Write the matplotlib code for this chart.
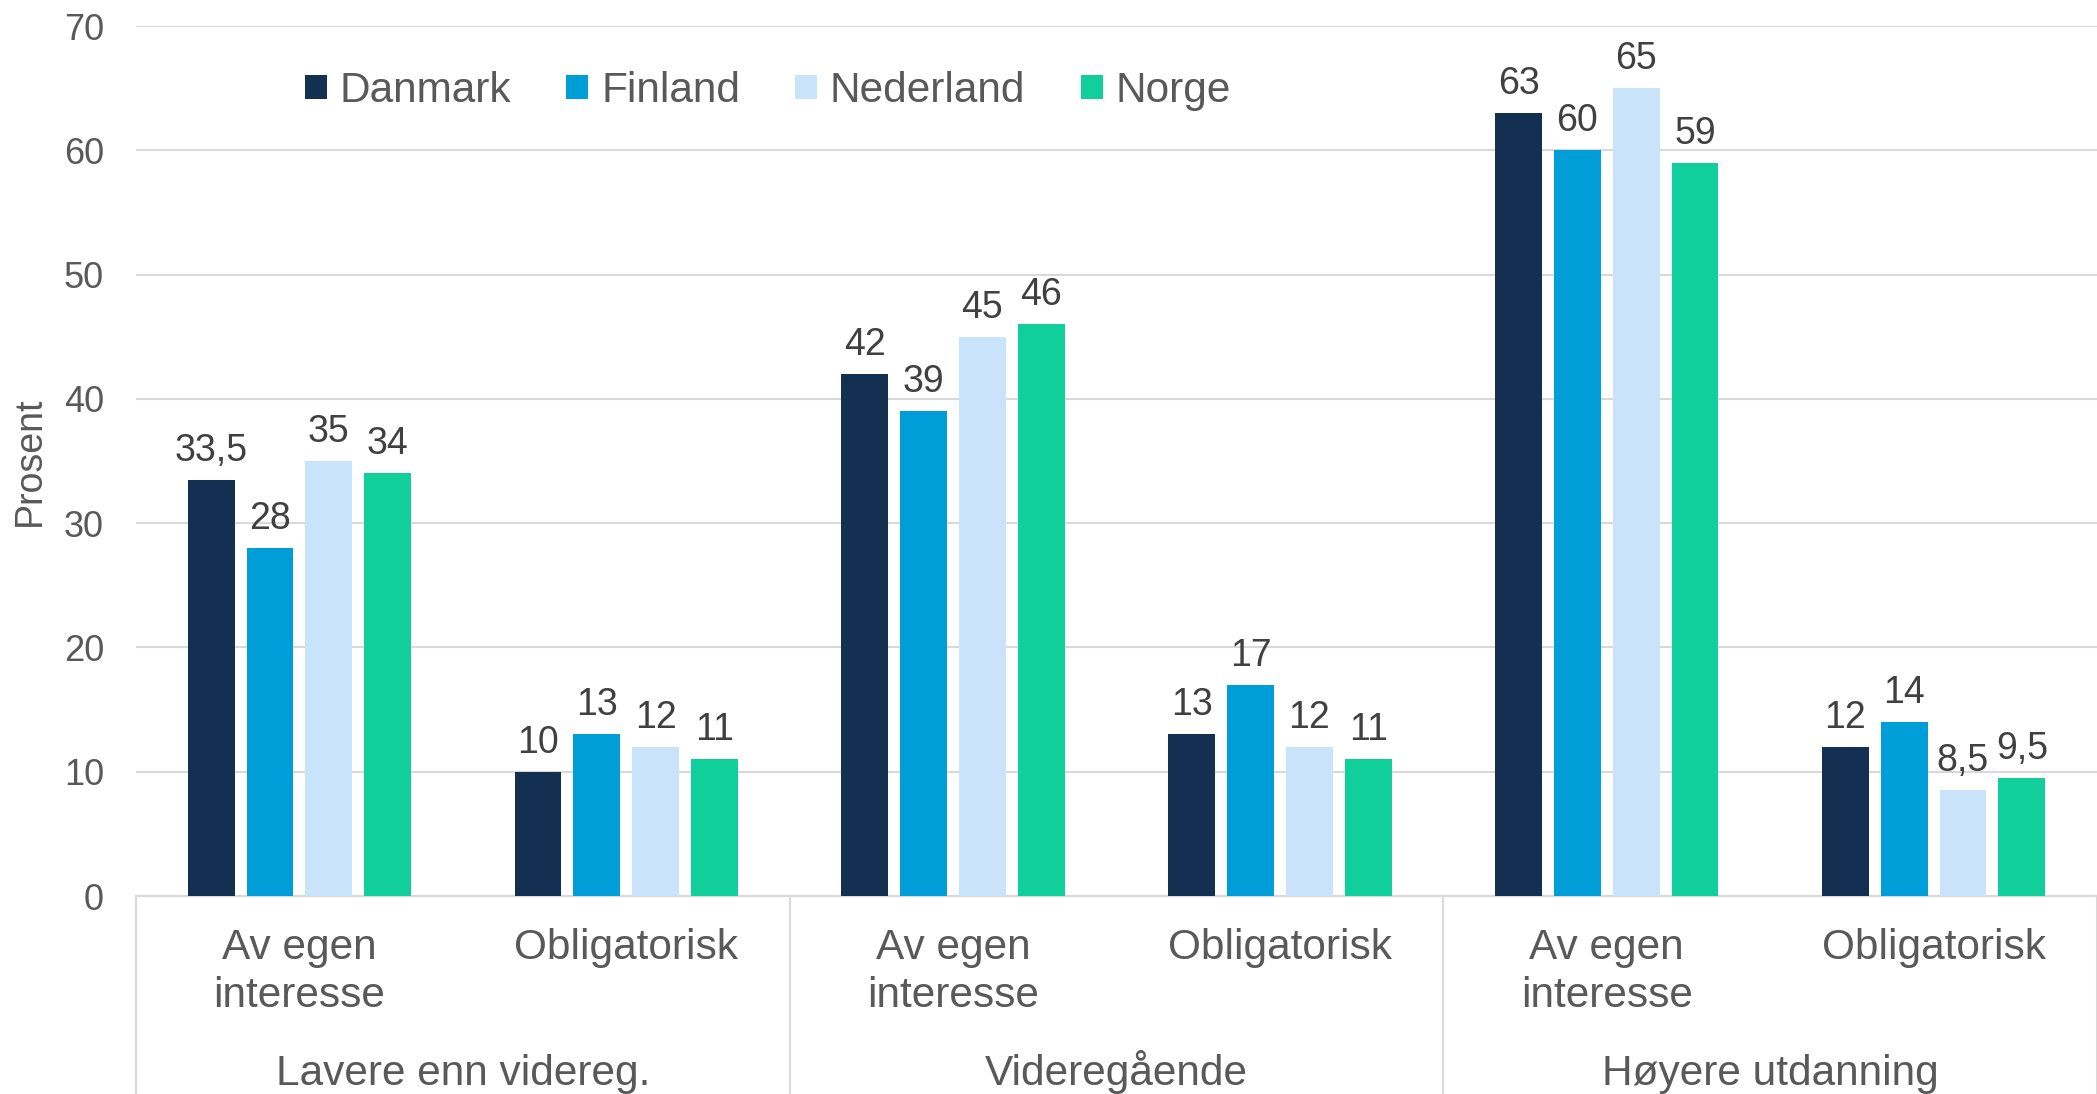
import numpy as np
import matplotlib.pyplot as plt
import matplotlib.transforms as mtransforms

# Andel som deltar i opplæring, etter utdanningsnivå og type
groups = ['Lavere enn videreg.', 'Videregående', 'Høyere utdanning']
subcats = ['Av egen\ninteresse', 'Obligatorisk'] * 3
countries = ['Danmark', 'Finland', 'Nederland', 'Norge']
colors = ['#133052', '#009ED8', '#C9E3FA', '#11CF9B']

danmark = [33.5, 10, 42, 13, 63, 12]
finland = [28, 13, 39, 17, 60, 14]
nederland = [35, 12, 45, 12, 65, 8.5]
norge = [34, 11, 46, 11, 59, 9.5]
values = [danmark, finland, nederland, norge]

plt.rcParams['font.family'] = ['Liberation Sans', 'DejaVu Sans']

fig = plt.figure(figsize=(20.97, 10.94), dpi=100)
ax = fig.add_axes([136 / 2097, 198 / 1094, 1 - 136 / 2097, 870 / 1094])

x = np.arange(len(subcats))
width = 0.1437
step = 0.18

for i, (name, vals, col) in enumerate(zip(countries, values, colors)):
    pos = x + (i - 1.5) * step
    bars = ax.bar(pos, vals, width, color=col, label=name, zorder=3)
    for b, v in zip(bars, vals):
        txt = ('%g' % v).replace('.', ',')
        ax.annotate(txt, (b.get_x() + b.get_width() / 2, v), xytext=(0, 8),
                    textcoords='offset points', ha='center', va='bottom',
                    fontsize=27, color='#404040')

ax.set_xlim(-0.5, 5.5)
ax.set_ylim(0, 70)
ax.set_yticks(range(0, 71, 10))
ax.yaxis.grid(True, color='#D9D9D9', linewidth=1.5, zorder=0)
ax.tick_params(axis='y', length=0, pad=23, labelsize=26, labelcolor='#595959')
ax.set_xticks(x)
ax.set_xticklabels(subcats, linespacing=1.25)
ax.tick_params(axis='x', length=0, pad=23, labelsize=30.5, labelcolor='#595959')

for s in ['top', 'right', 'left']:
    ax.spines[s].set_visible(False)
ax.spines['bottom'].set_color('#D9D9D9')
ax.spines['bottom'].set_linewidth(1.5)

ax.set_ylabel('Prosent', fontsize=27, color='#595959')
ax.yaxis.set_label_coords(-0.045, 0.5)

# group separators and group labels below the axis
trans = mtransforms.blended_transform_factory(ax.transData, ax.transAxes)
for xs in [-0.5, 1.5, 3.5, 5.5]:
    ax.plot([xs, xs], [0, -0.23], transform=trans, color='#D9D9D9',
            linewidth=1.5, clip_on=False)
for g, name in enumerate(groups):
    ax.text(2 * g + 0.5, -0.2172, name, transform=trans, ha='center',
            va='baseline', fontsize=30.5, color='#595959')

ax.legend(loc='center left', bbox_to_anchor=(305 / 2097, 1 - 91 / 1094),
          bbox_transform=fig.transFigure, ncol=4, frameon=False,
          fontsize=30.5, labelcolor='#595959', handlelength=0.52,
          handleheight=0.52, handletextpad=0.3, columnspacing=1.3,
          borderpad=0, borderaxespad=0)

fig.savefig('out.png', dpi=100)
